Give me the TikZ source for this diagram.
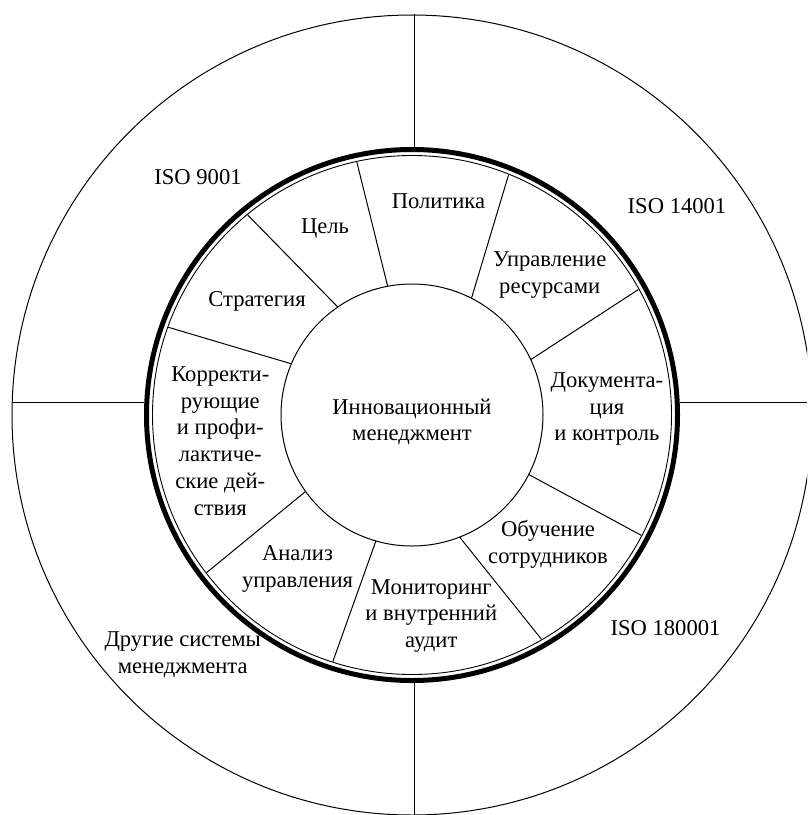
\documentclass[tikz,border=0pt]{standalone}
\usepackage{fontspec}
\setmainfont{Liberation Serif}
\tikzset{
  lbl/.style={align=center, inner sep=0pt, font=\fontsize{22.6}{26.8}\selectfont},
  thinline/.style={line width=1pt},
}
\begin{document}
\begin{tikzpicture}[x=1pt,y=1pt]
            % Frame of the picture (pixel units, y downwards as negative)
            \useasboundingbox (0,0) rectangle (807,-815);
            \clip (0,0) rectangle (807,-815);
            \coordinate (c) at (412,-415); % Common centre

            % Outer circle with the four standards
            \draw[thinline] (c) circle (400);
            \draw[thinline] (414,-14) -- (414,-147); % Top divider
            \draw[thinline] (414,-683) -- (414,-815); % Bottom divider
            \draw[thinline] (12,-402) -- (144,-402); % Left divider
            \draw[thinline] (680,-402) -- (807,-402); % Right divider

            % Thick ring (double line)
            \draw[line width=5pt] (c) circle (265.5);
            \draw[line width=0.9pt] (c) circle (259.5);

            % Inner circle
            \draw[thinline] (c) circle (131);

            % Spokes between the sectors
            \foreach \a/\b in {102.3/100.7, 68.1/63, 29/25, -27.7/-27, -60/-68.7,
                               -107.8/-106, -142.5/-144.3, 160.2/157, 129.4/124.5}
              \draw[thinline] ([shift={(\a:259)}]c) -- ([shift={(\b:131)}]c);

            % Centre label
            \node[lbl] (innov) at (412,-422) {Инновационный\\менеджмент};

            % Sector labels
            \node[lbl] (policy) at (438.5,-201.7) {Политика};
            \node[lbl] (goal) at (325,-229) {Цель};
            \node[lbl] (strategy) at (257,-301) {Стратегия};
            \node[lbl] (resources) at (549.7,-275) {Управление\\ресурсами};
            \node[lbl] (docs) at (607,-409) {Документа-\\ция\\и контроль};
            \node[lbl] (training) at (548,-544.5) {Обучение\\сотрудников};
            \node[lbl] (audit) at (431.3,-616) {Мониторинг\\и внутренний\\аудит};
            \node[lbl] (review) at (297.5,-568.7) {Анализ\\управления};
            \node[lbl] (actions) at (220.3,-441) {Корректи-\\рующие\\и профи-\\лактиче-\\ские дей-\\ствия};

            % Standards in the outer ring
            \node[lbl] (iso9001) at (198,-177.5) {ISO 9001};
            \node[lbl] (iso14001) at (677,-206) {ISO 14001};
            \node[lbl] (iso180001) at (665.5,-628) {ISO 180001};
            \node[lbl] (other) at (182.7,-654.6) {Другие системы\\менеджмента};
        \end{tikzpicture}
\end{document}
